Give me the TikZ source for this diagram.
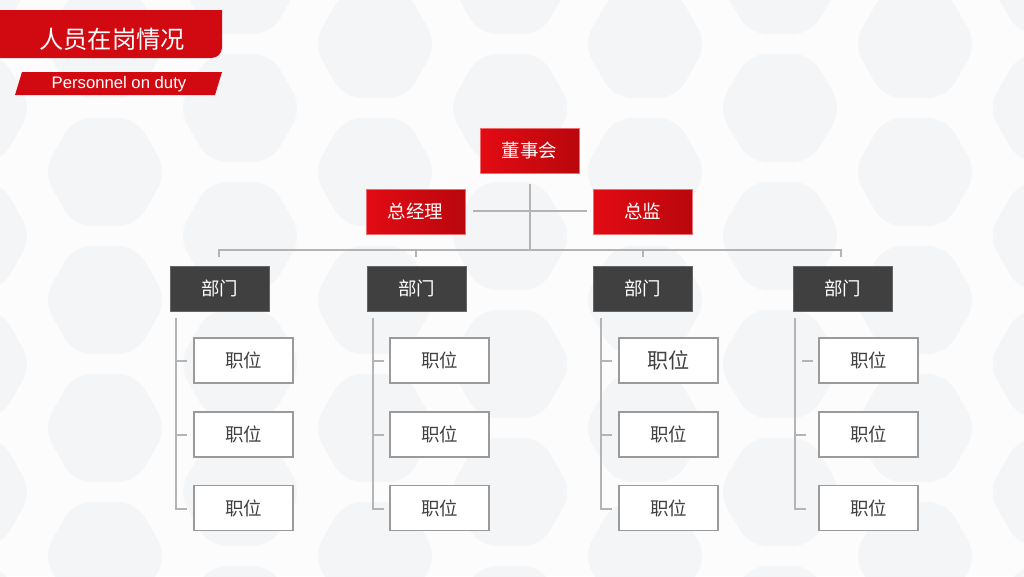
\documentclass[tikz,border=0pt]{standalone}
\usepackage{fontspec}
\setmainfont{Noto Sans CJK SC}
\newfontfamily\latinsans{Liberation Sans}
\definecolor{redA}{HTML}{E30B13}
\definecolor{redB}{HTML}{B9070D}
\definecolor{darkbox}{HTML}{404040}
\definecolor{linegray}{HTML}{B4B4B4}
\definecolor{bggray}{HTML}{FCFCFD}
\definecolor{hexgray}{HTML}{F4F5F6}
\definecolor{boxborder}{HTML}{9A9A9A}
\begin{document}
\begin{tikzpicture}[x=0.02cm,y=-0.02cm,
  redbox/.style={minimum width=1.98cm,minimum height=0.9cm,inner sep=0pt,left color=redA,right color=redB,draw=redA!60!white,line width=0.4pt,text=white,font=\fontsize{10.5pt}{12pt}\selectfont},
  deptbox/.style={minimum width=1.98cm,minimum height=0.9cm,inner sep=0pt,fill=darkbox,draw=darkbox!80!white,text=white,font=\fontsize{10.5pt}{12pt}\selectfont},
  posbox/.style={minimum width=1.98cm,minimum height=0.9cm,inner sep=0pt,fill=white,draw=boxborder,line width=0.6pt,text=darkbox,font=\fontsize{10.5pt}{12pt}\selectfont},
  conn/.style={draw=linegray,line width=0.8pt},
  hexa/.style={fill=hexgray,rounded corners=0.35cm}]
% background
\fill[bggray] (0,0) rectangle (1024,576);
\useasboundingbox (0,0) rectangle (1024,576);
\begin{scope}
\clip (0,0) rectangle (1024,576);
\foreach \cx in {0,1,...,8}{
  \foreach \cy in {0,1,...,5}{
    \pgfmathsetmacro{\px}{\cx*135-30}
    \pgfmathsetmacro{\py}{\cy*128+mod(\cx,2)*64-20}
    \fill[hexa] (\px+62,\py) -- (\px+31,\py-54) -- (\px-31,\py-54) -- (\px-62,\py) -- (\px-31,\py+54) -- (\px+31,\py+54) -- cycle;
  }
}
\end{scope}
% title banner
\fill[redA!92!black] (0,10) -- (222,10) -- (222,50) [rounded corners=6] -- (222,58) [sharp corners] -- (0,58) -- cycle;
\node[text=white,font=\fontsize{13.8pt}{15pt}\selectfont] (title) at (112,39) {人员在岗情况};
\fill[redA!92!black] (22,72) -- (222,72) -- (215,95) -- (15,95) -- cycle;
\node[text=white,font=\latinsans\fontsize{9.5pt}{11pt}\selectfont] (subtitle) at (119,84) {Personnel on duty};
% top level
\node[redbox] (board) at (529.5,151) {董事会};
\node[redbox] (gm) at (415.5,211.5) {总经理};
\node[redbox] (dir) at (642.5,211.5) {总监};
\coordinate (top) at (530,184);
\coordinate (bus) at (530,250);
\coordinate (hl) at (473,211);
\coordinate (hr) at (587,211);
\draw[conn] (top) -- (bus);
\draw[conn] (hl) -- (hr);
% departments
\foreach \i/\dx in {1/219.5,2/416.5,3/642.5,4/842.5}{
  \node[deptbox] (d\i) at (\dx,288.5) {部门};
}
\draw[conn] (219,257) -- (219,250) -- (841,250) -- (841,257);
\draw[conn] (416,250) -- (416,257);
\draw[conn] (643,250) -- (643,257);
% positions
\foreach \i/\lx/\px in {1/176/243.5,2/373/439.5,3/601/668.5,4/795/868.5}{
  \node[posbox] (p\i a) at (\px,360.5) {职位};
  \node[posbox] (p\i b) at (\px,434.5) {职位};
  \node[posbox] (p\i c) at (\px,508) {职位};
  \coordinate (v\i) at (\lx,318);
}
\node[posbox,font=\fontsize{12pt}{14pt}\selectfont] (p3a) at (668.5,360.5) {职位};
\foreach \i/\lx in {1/176,2/373,3/601,4/795}{
  \pgfmathsetmacro{\ex}{\lx+11}
  \draw[conn] (v\i) -- (\lx,509) -- (\ex,509);
  \draw[conn] (\lx,435) -- (\ex,435);
}
\foreach \i/\lx in {1/176,2/373,3/601}{
  \pgfmathsetmacro{\ex}{\lx+11}
  \draw[conn] (\lx,361) -- (\ex,361);
}
\draw[conn] (802,361) -- (813,361);
\end{tikzpicture}
\end{document}
